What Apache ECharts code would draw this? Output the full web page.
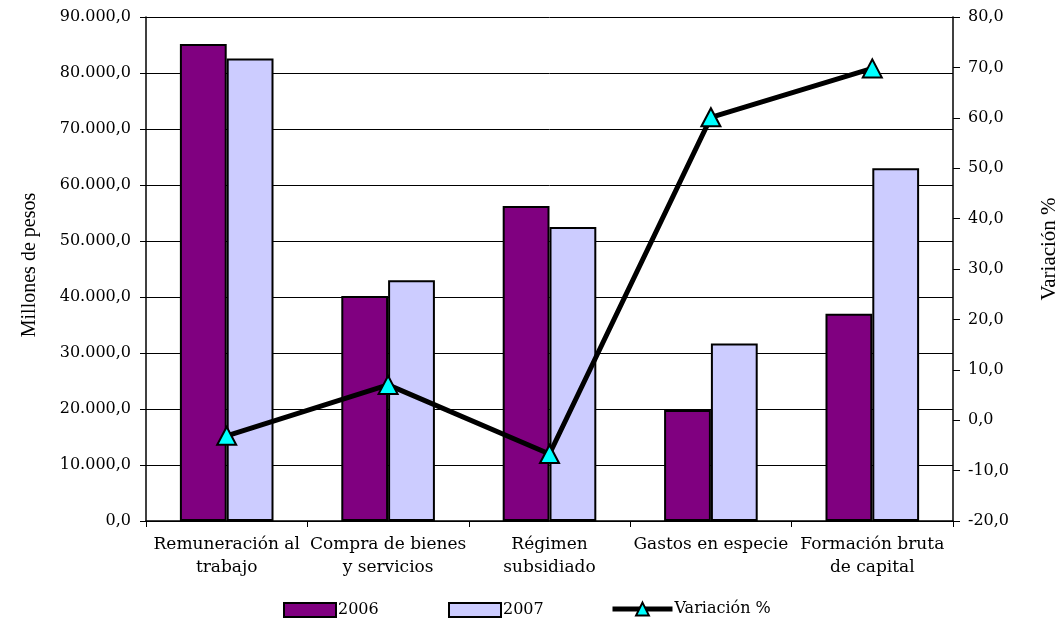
<!DOCTYPE html>
<html>
<head>
<meta charset="utf-8">
<script src="https://cdn.jsdelivr.net/npm/echarts@6/dist/echarts.min.js"></script>
<style>html,body{margin:0;padding:0;background:#fff;}#c{width:1061px;height:625px;}</style>
</head>
<body>
<div id="c"></div>
<script>
var categories = ['Remuneración al\ntrabajo', 'Compra de bienes\ny servicios', 'Régimen\nsubsidiado', 'Gastos en especie', 'Formación bruta\nde capital'];
var values2006 = [85200, 40200, 56250, 19800, 37000];
var values2007 = [82600, 43000, 52500, 31700, 63000];
var variacion = [-3.1, 7.0, -6.7, 60.1, 69.8];

var serif = 'DejaVu Serif';
var times = 'Liberation Serif';

function fmtLeft(v) {
  var s = Math.round(v).toString().replace(/\B(?=(\d{3})+(?!\d))/g, '.');
  return s + ',0';
}
function fmtRight(v) {
  return v.toFixed(1).replace('.', ',');
}

var chart = echarts.init(document.getElementById('c'), null, {renderer: 'canvas'});
var legendText = {fontFamily: serif, fontSize: 16, color: '#000', padding: [0, 0, 0, -3]};
chart.setOption({
  animation: false,
  backgroundColor: '#fff',
  grid: {left: 146, right: 108, top: 17, bottom: 104, containLabel: false, outerBoundsMode: 'none'},
  legend: [
    {data: [{name: '2006', icon: 'rect'}], left: 283, top: 602, itemWidth: 52, itemHeight: 14, textStyle: legendText, padding: 0,
     itemStyle: {borderColor: '#000', borderWidth: 2}},
    {data: [{name: '2007', icon: 'rect'}], left: 448, top: 602, itemWidth: 52, itemHeight: 14, textStyle: legendText, padding: 0,
     itemStyle: {borderColor: '#000', borderWidth: 2}},
    {data: ['Variación %'], left: 610, top: 601, itemWidth: 60, itemHeight: 16, textStyle: legendText, padding: 0,
     lineStyle: {width: 5, color: '#000'}}
  ],
  xAxis: {
    type: 'category',
    data: categories,
    axisLine: {lineStyle: {color: '#000', width: 1.5}},
    axisTick: {show: true, length: 6, lineStyle: {color: '#000', width: 1}},
    axisLabel: {fontFamily: serif, fontSize: 17, color: '#000', margin: 12, lineHeight: 23, interval: 0}
  },
  yAxis: [
    {
      type: 'value', min: 0, max: 90000, interval: 10000,
      name: 'Millones de pesos', nameLocation: 'middle', nameGap: 106, nameRotate: 90,
      nameTextStyle: {fontFamily: times, fontSize: 20, color: '#000', padding: [0, 0, 0, 8]},
      axisLine: {show: true, lineStyle: {color: '#000', width: 1.5}},
      axisTick: {show: true, length: 6, lineStyle: {color: '#000'}},
      axisLabel: {fontFamily: serif, fontSize: 16, color: '#000', margin: 15, formatter: fmtLeft},
      splitLine: {show: true, lineStyle: {color: '#000', width: 1}}
    },
    {
      type: 'value', min: -20, max: 80, interval: 10, position: 'right',
      name: 'Variación %', nameLocation: 'middle', nameGap: 86, nameRotate: 90,
      nameTextStyle: {fontFamily: times, fontSize: 21, color: '#000', padding: [0, 0, 0, 40]},
      axisLine: {show: true, lineStyle: {color: '#000', width: 1.5}},
      axisTick: {show: true, length: 7, lineStyle: {color: '#000'}},
      axisLabel: {fontFamily: serif, fontSize: 16, color: '#000', margin: 15, formatter: fmtRight},
      splitLine: {show: false}
    }
  ],
  series: [
    {
      name: '2006', type: 'bar', data: values2006, barGap: '0%', barCategoryGap: '42%',
      itemStyle: {color: '#800080', borderColor: '#000', borderWidth: 2}
    },
    {
      name: '2007', type: 'bar', data: values2007, barGap: '0%', barCategoryGap: '42%',
      itemStyle: {color: '#CCCCFF', borderColor: '#000', borderWidth: 2}
    },
    {
      name: 'Variación %', type: 'line', yAxisIndex: 1, data: variacion,
      symbol: 'triangle', symbolSize: [19, 18], z: 5,
      lineStyle: {color: '#000', width: 5},
      itemStyle: {color: '#00FFFF', borderColor: '#000', borderWidth: 2}
    }
  ]
});
</script>
</body>
</html>
